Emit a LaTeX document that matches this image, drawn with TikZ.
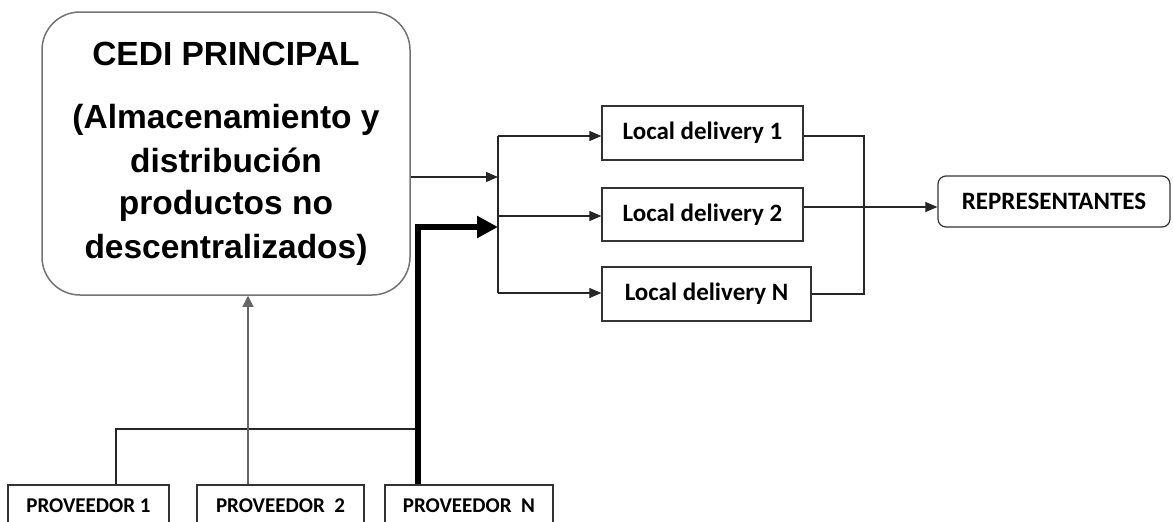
\documentclass[tikz,border=0pt]{standalone}
\usepackage{fontspec}
\setmainfont{Liberation Sans}
\newfontfamily\calfont{Carlito}
\usetikzlibrary{arrows.meta}
\begin{document}
\begin{tikzpicture}[x=1pt,y=-1pt,
  box/.style={draw=black!80, line width=1.2pt, inner sep=0pt, font=\calfont\bfseries\fontsize{21}{24}\selectfont},
  bigbox/.style={box, font=\calfont\bfseries\fontsize{25}{28}\selectfont},
  cedit/.style={anchor=base, inner sep=0pt, font=\bfseries\fontsize{33.5}{38}\selectfont},
  conn/.style={draw=black!85, line width=1.1pt},
  arr/.style={conn, -{Triangle[length=12pt,width=10pt]}},
  thick/.style={draw=black, line width=6.5pt, -{Triangle[length=21pt,width=21pt]}},
]
\clip (0,0) rectangle (1173,522);
% main box
\node[draw=black!55, line width=1.5pt, rounded corners=38pt, minimum width=368pt, minimum height=283pt, inner sep=0pt] (cedi) at (226,153.5) {};
\node[cedit] (t0) at (226,65) {CEDI PRINCIPAL};
\node[cedit] (t1) at (226,128) {(Almacenamiento y};
\node[cedit] (t2) at (226,172) {distribución};
\node[cedit] (t3) at (226,214) {productos no};
\node[cedit] (t4) at (226,258) {descentralizados)};
% local deliveries
\node[bigbox, minimum width=201pt, minimum height=54pt] (ld1) at (702.5,133) {Local delivery 1};
\node[bigbox, minimum width=201pt, minimum height=53pt] (ld2) at (702.5,214.5) {Local delivery 2};
\node[bigbox, minimum width=209pt, minimum height=54pt] (ldn) at (706.5,294) {Local delivery N};
% representantes
\node[bigbox, rounded corners=8pt, minimum width=232pt, minimum height=51pt] (rep) at (1054,201.5) {REPRESENTANTES};
% proveedores
\node[box, minimum width=161pt, minimum height=42pt] (p1) at (88.5,506) {PROVEEDOR 1};
\node[box, minimum width=167pt, minimum height=42pt] (p2) at (280.5,506) {PROVEEDOR\ \ 2};
\node[box, minimum width=168pt, minimum height=42pt] (pn) at (469,506) {PROVEEDOR\ \ N};
% coordinates
\coordinate (bc) at (498,177);
\coordinate (bt) at (498,136);
\coordinate (bm) at (498,216);
\coordinate (bb) at (498,293);
\coordinate (tk) at (418,227);
\coordinate (b1) at (116,429);
\coordinate (bn) at (418,429);
\coordinate (c2) at (248,429);
\coordinate (rt) at (864,136);
\coordinate (rb) at (864,294);
\coordinate (r2) at (864,207);
% left fan-out
\draw[arr] (cedi.east |- bc) -- (bc);
\draw[conn] (bt) -- (bb);
\draw[arr] (bt) -- (bt -| ld1.west);
\draw[arr] (bm) -- (bm -| ld2.west);
\draw[arr] (bb) -- (bb -| ldn.west);
% right collection
\draw[conn] (ld1.east |- rt) -- (rt) -- (rb) -- (ldn.east |- rb);
\draw[arr] (ld2.east |- r2) -- (rep.west |- r2);
% suppliers
\draw[conn] (p1.north -| b1) -- (b1) -- (bn);
\draw[conn, draw=black!60, -{Triangle[length=11pt,width=11pt]}] (p2.north -| c2) -- (cedi.south -| c2);
\draw[thick] (pn.north -| tk) -- (tk) -- (bm |- tk);
\end{tikzpicture}
\end{document}
